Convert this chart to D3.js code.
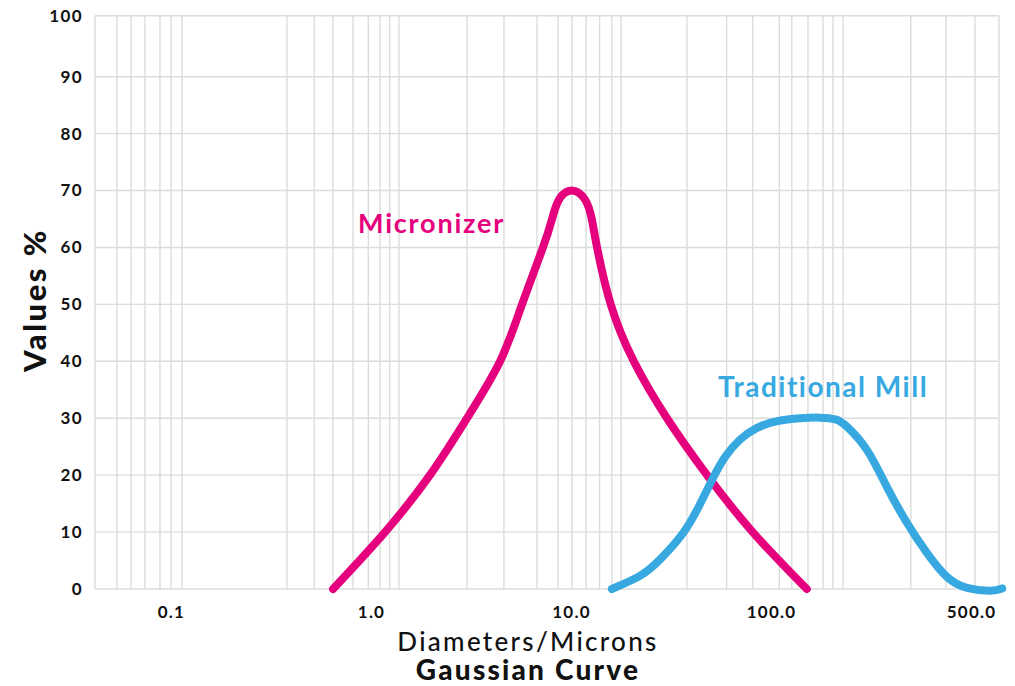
<!DOCTYPE html>
<html>
<head>
<meta charset="utf-8">
<script src="https://cdn.jsdelivr.net/npm/d3@7"></script>
<style>
  html, body { margin: 0; padding: 0; background: #fff; }
  svg { display: block; font-family: "Lato", "Open Sans", sans-serif; }
</style>
</head>
<body>
<svg id="chart" width="1015" height="686"></svg>
<script>
// ---------- data ----------
const micronizerX = [0.646, 1.175, 1.97, 3.02, 4.42, 5.69, 7.24, 8.04, 8.71, 10.06, 11.75, 12.7, 13.5, 15.8, 20.6, 30.2, 47.9, 81, 151];
const micronizerY = [0, 10, 20, 30, 40, 50, 60, 65, 68.4, 70, 68.4, 65, 60, 50, 40, 30, 20, 10, 0];

const millX = [16.0, 22.1, 27.9, 36.3, 44.0, 51.3, 58.9, 69.8, 85.1, 107.4, 140, 176, 210, 240, 302, 380, 479, 603, 759, 955, 1247, 1432];
const millY = [0, 2.3, 5.2, 9.8, 14.8, 19.5, 23.2, 26.2, 28.3, 29.5, 30, 30.1, 29.8, 28.5, 24.4, 17.9, 11.6, 6.3, 2.1, 0.2, -0.3, 0.1];

const xTickValues = [0.1, 1, 10, 100, 1000];
const xTickLabels = ["0.1", "1.0", "10.0", "100.0", "500.0"];
const yTickValues = [0, 10, 20, 30, 40, 50, 60, 70, 80, 90, 100];
const xGridValues = [0.0537, 0.0631, 0.0741, 0.0881, 0.1, 0.1135,
  0.38, 0.52, 0.646, 0.813, 0.97, 1.11, 1.24, 1.38,
  3.02, 4.62, 6.76, 8.61, 10.1, 11.9, 13.9, 16.0, 17.8,
  38, 60, 81, 110, 127, 153, 182, 204, 229,
  500, 750, 1047];
const xDomain = [0.0417, 1380];

const seriesNames = ["Micronizer", "Traditional Mill"];
const seriesColors = ["#E5007D", "#38A9E0"];

// ---------- scales ----------
const svg = d3.select("#chart");
const x = d3.scaleLog().domain(xDomain).range([95, 999]);
const y = d3.scaleLinear().domain([0, 90, 100]).range([589, 76.7, 15.7]);

// ---------- grid ----------
const grid = svg.append("g").attr("stroke", "#dcdcdc").attr("stroke-width", 1.4);
grid.selectAll("line.h").data(yTickValues).join("line")
  .attr("x1", x(xDomain[0])).attr("x2", x(xDomain[1]))
  .attr("y1", d => y(d)).attr("y2", d => y(d));
grid.selectAll("line.v").data(xGridValues.concat(xDomain)).join("line")
  .attr("x1", d => x(d)).attr("x2", d => x(d))
  .attr("y1", y(0)).attr("y2", y(100));

// ---------- axes ----------
const yAxis = d3.axisLeft(y).tickValues(yTickValues).tickSize(0).tickPadding(12)
  .tickFormat(d3.format("d"));
const yg = svg.append("g").attr("transform", `translate(${x(xDomain[0])},0)`).call(yAxis);
yg.select(".domain").remove();
yg.selectAll("text").attr("font-size", 17).attr("font-weight", 700).attr("fill", "#111")
  .attr("font-family", "Lato").attr("letter-spacing", 1.4);

const xAxis = d3.axisBottom(x).tickValues(xTickValues).tickSize(0).tickPadding(17)
  .tickFormat((d, i) => xTickLabels[i]);
const xg = svg.append("g").attr("transform", `translate(0,${y(0)})`).call(xAxis);
xg.select(".domain").remove();
xg.selectAll("text").attr("font-size", 17).attr("font-weight", 700).attr("fill", "#111")
  .attr("font-family", "Lato").attr("letter-spacing", 1.2);

// ---------- lines ----------
const line = d3.line().x(d => x(d[0])).y(d => y(d[1])).curve(d3.curveNatural);
const series = [
  d3.zip(micronizerX, micronizerY),
  d3.zip(millX, millY)
];
svg.append("g").selectAll("path").data(series).join("path")
  .attr("d", line)
  .attr("fill", "none")
  .attr("stroke", (d, i) => seriesColors[i])
  .attr("stroke-width", 8)
  .attr("stroke-linecap", "round")
  .attr("stroke-linejoin", "round");

// ---------- series labels ----------
svg.append("text").text(seriesNames[0])
  .attr("x", 358).attr("y", 233)
  .attr("font-size", 27).attr("font-weight", 700).attr("letter-spacing", 1.8)
  .attr("fill", seriesColors[0]);
svg.append("text").text(seriesNames[1])
  .attr("x", 718).attr("y", 397)
  .attr("font-size", 28).attr("font-weight", 700).attr("letter-spacing", 1.5)
  .attr("fill", seriesColors[1]);

// ---------- axis titles ----------
svg.append("text").text("Diameters/Microns")
  .attr("x", 528).attr("y", 651).attr("text-anchor", "middle")
  .attr("font-size", 26).attr("font-weight", 500).attr("letter-spacing", 2.3)
  .attr("fill", "#111");
svg.append("text").text("Gaussian Curve")
  .attr("x", 528).attr("y", 680).attr("text-anchor", "middle")
  .attr("font-size", 28).attr("font-weight", 900).attr("letter-spacing", 2.2)
  .attr("fill", "#111");
svg.append("text").text("Values %")
  .attr("transform", "translate(46,300) rotate(-90)").attr("text-anchor", "middle")
  .attr("font-size", 31).attr("font-weight", 900).attr("letter-spacing", 2.5)
  .attr("fill", "#111");
</script>
</body>
</html>
